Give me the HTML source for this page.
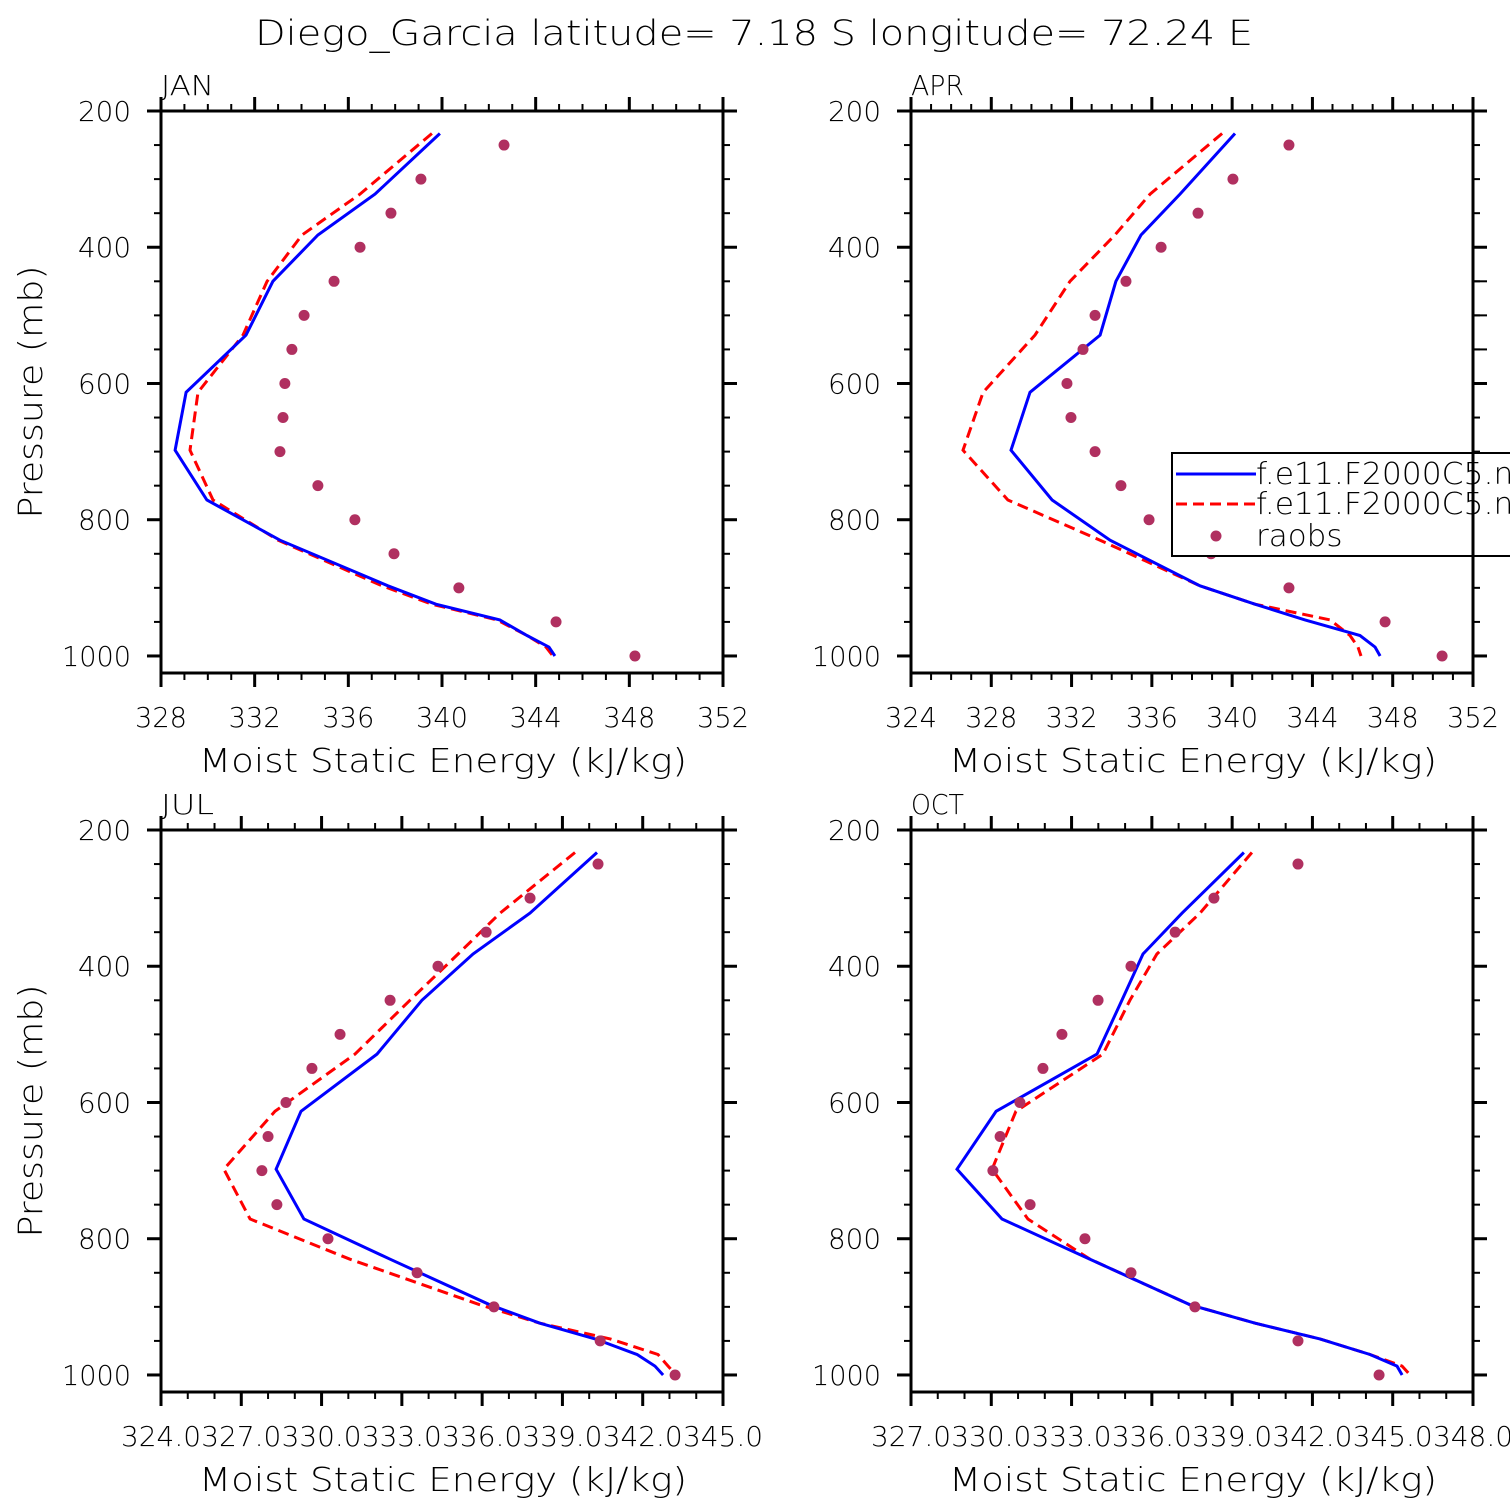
<!DOCTYPE html>
<html><head><meta charset="utf-8"><style>
html,body{margin:0;padding:0;background:#fff}
svg{display:block}
text{font-family:"DejaVu Sans","Liberation Sans",sans-serif;font-weight:200;fill:#000}
</style></head><body>
<svg id="c" width="1510" height="1510" viewBox="0 0 1510 1510" xmlns="http://www.w3.org/2000/svg">
<text x="255" y="45" font-size="35" textLength="998" lengthAdjust="spacingAndGlyphs">Diego_Garcia  latitude= 7.18 S longitude= 72.24 E</text>
</svg>
<script>
const modelLevels=[233,322,382,450,529,613,698,771,830,897,924,947,970,987,1000];
const obsLevels=[250,300,350,400,450,500,550,600,650,700,750,800,850,900,950,1000];
const janBlue=[339.91,337.14,334.70,332.78,331.63,329.07,328.60,329.96,333.08,337.69,339.74,342.47,343.63,344.57,344.82];
const janRed=[339.57,336.50,334.02,332.53,331.50,329.58,329.24,330.22,333.00,337.44,339.57,342.35,343.63,344.44,344.74];
const janObs=[342.65,339.10,337.82,336.50,335.39,334.11,333.59,333.29,333.21,333.08,334.70,336.28,337.95,340.72,344.87,348.24];
const aprBlue=[340.14,337.40,335.46,334.21,333.42,329.93,328.98,331.03,333.92,338.40,341.14,343.63,346.37,347.12,347.37];
const aprRed=[339.50,335.91,334.16,331.92,330.18,327.59,326.59,328.83,333.42,338.40,341.14,344.88,345.87,346.27,346.42];
const aprObs=[342.83,340.04,338.30,336.46,334.71,333.17,332.57,331.77,331.97,333.17,334.46,335.86,338.95,342.83,347.62,350.46];
const julBlue=[340.29,337.79,335.66,333.75,332.07,329.23,328.30,329.34,332.56,336.29,338.16,340.22,341.79,342.46,342.76];
const julRed=[339.47,336.67,335.10,333.30,331.25,328.26,326.35,327.33,331.06,335.92,338.16,340.78,342.57,342.95,343.25];
const julObs=[340.33,337.79,336.15,334.35,332.56,330.69,329.64,328.67,328.00,327.77,328.33,330.24,333.57,336.44,340.41,343.21];
const octBlue=[339.44,337.13,335.67,334.88,333.95,330.18,328.72,330.40,333.69,337.43,339.86,342.28,344.15,345.16,345.35];
const octRed=[339.74,337.80,336.19,335.18,334.17,330.92,330.03,331.37,333.69,337.43,339.86,342.28,344.15,345.35,345.65];
const octObs=[341.46,338.32,336.87,335.22,333.99,332.64,331.93,331.07,330.33,330.06,331.45,333.50,335.22,337.61,341.46,344.49];
const yTicks=[200,400,600,800,1000];
const legendLabels=["f.e11.F2000C5.nudging","f.e11.F2000C5.nudging","raobs"];

const NS="http://www.w3.org/2000/svg";
const svg=document.getElementById('c');
function mk(tag,attrs,parent){const e=document.createElementNS(NS,tag);for(const k in attrs)e.setAttribute(k,attrs[k]);(parent||svg).appendChild(e);return e;}

const panels=[
 {name:'jan',label:'JAN',x0:161,y0:111,xmin:328,xmax:352,major:4,fmt:v=>String(v),blue:janBlue,red:janRed,obs:janObs},
 {name:'apr',label:'APR',x0:911,y0:111,xmin:324,xmax:352,major:4,fmt:v=>String(v),blue:aprBlue,red:aprRed,obs:aprObs},
 {name:'jul',label:'JUL',x0:161,y0:830,xmin:324,xmax:345,major:3,fmt:v=>v.toFixed(1),blue:julBlue,red:julRed,obs:julObs},
 {name:'oct',label:'OCT',x0:911,y0:830,xmin:327,xmax:348,major:3,fmt:v=>v.toFixed(1),blue:octBlue,red:octRed,obs:octObs}
];
const W=562,H=562,PMIN=200,PMAX=1025;

panels.forEach(p=>{
 const g=mk('g',{});
 
 
 const X=v=>p.x0+(v-p.xmin)/(p.xmax-p.xmin)*W;
 const Y=pr=>p.y0+(pr-PMIN)/(PMAX-PMIN)*H;
 const t=mk('text',{x:p.x0,y:p.y0-16,'font-size':28,textLength:53,lengthAdjust:'spacingAndGlyphs'},g);t.textContent=p.label;
 
 
 const r=mk('rect',{x:p.x0,y:p.y0,width:W,height:H,fill:'none',stroke:'#000','stroke-width':3},g);
 
 
 for(let v=p.xmin;v<=p.xmax+1e-9;v++){
  const isMaj=((v-p.xmin)%p.major)===0;const L=isMaj?14:7;const x=X(v);
  mk('line',{x1:x,x2:x,y1:p.y0,y2:p.y0-L,stroke:'#000','stroke-width':isMaj?3:2},g);
  mk('line',{x1:x,x2:x,y1:p.y0+H,y2:p.y0+H+L,stroke:'#000','stroke-width':isMaj?3:2},g);
  if(isMaj){const s=p.fmt(v);const tl=mk('text',{x:x,y:p.y0+H+54,'font-size':28,'text-anchor':'middle',textLength:s.length>3?80:52,lengthAdjust:'spacingAndGlyphs'},g);tl.textContent=s;
   
   }
 }
 for(let pr=200;pr<=1000;pr+=50){
  const isMaj=yTicks.includes(pr);const L=isMaj?14:7;const y=Y(pr);
  mk('line',{x1:p.x0,x2:p.x0-L,y1:y,y2:y,stroke:'#000','stroke-width':isMaj?3:2},g);
  mk('line',{x1:p.x0+W,x2:p.x0+W+L,y1:y,y2:y,stroke:'#000','stroke-width':isMaj?3:2},g);
 }
 yTicks.forEach(pr=>{const s=String(pr);const tl=mk('text',{x:p.x0-30,y:Y(pr)+10,'font-size':28,'text-anchor':'end',textLength:s.length>3?69:53,lengthAdjust:'spacingAndGlyphs'},g);tl.textContent=s;
  
  });
 const xt=mk('text',{x:p.x0+38,y:p.y0+H+99,'font-size':33,textLength:488,lengthAdjust:'spacingAndGlyphs'},g);xt.textContent='Moist Static Energy (kJ/kg)';
 
 
 if(p.x0<500){const yt=mk('text',{x:0,y:0,'font-size':33,'text-anchor':'middle',textLength:253,lengthAdjust:'spacingAndGlyphs',transform:`translate(42,${p.y0+281}) rotate(-90)`},g);yt.textContent='Pressure (mb)';
  
  }
 const pts=a=>a.map((v,i)=>X(v).toFixed(1)+','+Y(modelLevels[i]).toFixed(1)).join(' ');
 const rl=mk('polyline',{points:pts(p.red),fill:'none',stroke:'#ff0000','stroke-width':3,'stroke-dasharray':'11,6'},g);
 
 
 const bl=mk('polyline',{points:pts(p.blue),fill:'none',stroke:'#0000ff','stroke-width':3},g);
 
 
 p.obs.forEach((v,i)=>{const c=mk('circle',{cx:X(v),cy:Y(obsLevels[i]),r:5.5,fill:'#b03060'},g);
  
  });
});
const lg=mk('g',{});


mk('rect',{x:1172,y:453,width:400,height:103,fill:'#fff',stroke:'#000','stroke-width':2},lg);
mk('line',{x1:1176,x2:1256,y1:474,y2:474,stroke:'#0000ff','stroke-width':3},lg);
mk('line',{x1:1176,x2:1256,y1:504,y2:504,stroke:'#ff0000','stroke-width':3,'stroke-dasharray':'11,6'},lg);
mk('circle',{cx:1216,cy:536,r:5.5,fill:'#b03060'},lg);
[484,514,546].forEach((y,i)=>{const s=legendLabels[i];const t=mk('text',{x:1256,y:y,'font-size':30,textLength:s.length*17.3,lengthAdjust:'spacingAndGlyphs'},lg);t.textContent=s;
 
 });
mk('line',{x1:1473,x2:1473,y1:111,y2:673,stroke:'#000','stroke-width':3});
[450,500,550].forEach(pr=>{const y=111+(pr-200)/825*562;mk('line',{x1:1473,x2:1487,y1:y,y2:y,stroke:'#000','stroke-width':2});});
</script>
</body></html>
